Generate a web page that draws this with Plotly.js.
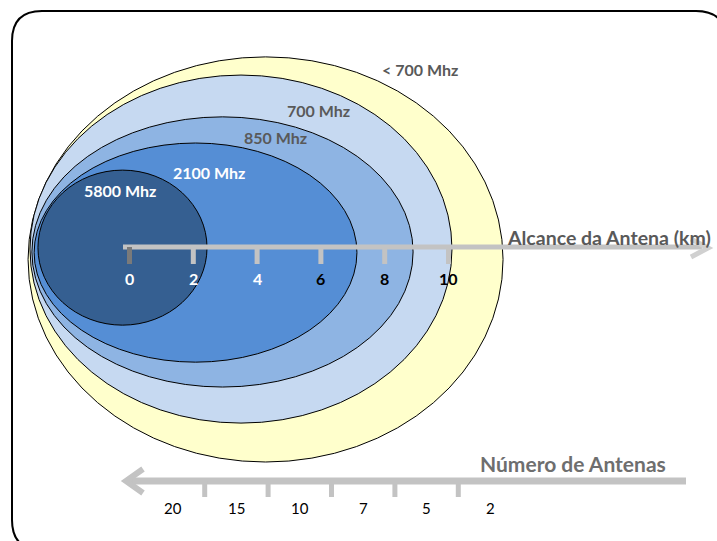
<!DOCTYPE html>
<html><head><meta charset="utf-8">
<script src="https://cdn.plot.ly/plotly-3.0.1.min.js"></script>
<style>html,body{margin:0;padding:0;background:#fff;overflow:hidden}</style>
</head><body><div id="chart" style="width:717px;height:541px"></div>
<script>
// ---- data ----
const frequencias = ['< 700 Mhz', '700 Mhz', '850 Mhz', '2100 Mhz', '5800 Mhz'];
const alcanceMinKm = [-3.18, -3.12, -3.06, -2.99, -2.87];
const alcanceMaxKm = [11.71, 10.11, 8.89, 7.13, 2.43];
const alturaMaxKm  = [5.96, 5.39, 4.08, 3.26, 2.41];
const alturaMinKm  = [-6.74, -5.52, -4.39, -3.61, -2.45];
const ticksKm = [0, 2, 4, 6, 8, 10];
const numeroAntenas = [20, 15, 10, 7, 5, 2];

// ---- layout / style ----
const W = 717, H = 541, PXKM = 31.9, X0 = 129.5, Y0 = 247;
const kmX = px => (px - X0) / PXKM;
const kmY = py => (Y0 - py) / PXKM;
const pX = px => px / W;
const pY = py => 1 - py / H;
const FONT = 'Lato, "Open Sans", sans-serif';
const fillColors = ['#FFFFCC', '#C6D9F1', '#8EB4E3', '#558ED5', '#355F91'];
const labelColors = ['#595959', '#595959', '#595959', '#FFFFFF', '#FFFFFF'];
const labelPos = [[420, 69], [318, 110], [275, 137], [209, 172], [120, 190]];
const tickLabelColors = ['#FFFFFF', '#FFFFFF', '#FFFFFF', '#000000', '#000000', '#000000'];
const AX_GRAY = '#C3C3C3';

const shapes = [];
const annotations = [];

// frame
(function () {
  const l = 12, t = 11, R = 726, B = 550, r = 30;
  const P = (x, y) => pX(x) + ',' + pY(y);
  shapes.push({
    type: 'path', xref: 'paper', yref: 'paper', layer: 'below',
    path: 'M' + P(l, t + r) + ' Q' + P(l, t) + ' ' + P(l + r, t) + ' L' + P(R - r, t) +
      ' Q' + P(R, t) + ' ' + P(R, t + r) + ' L' + P(R, B - r) + ' Q' + P(R, B) + ' ' + P(R - r, B) +
      ' L' + P(l + r, B) + ' Q' + P(l, B) + ' ' + P(l, B - r) + ' Z',
    line: { color: '#000', width: 2 }, fillcolor: 'rgba(0,0,0,0)'
  });
})();

// coverage ellipses
frequencias.forEach((f, i) => {
  shapes.push({
    type: 'circle', xref: 'x', yref: 'y', layer: 'below',
    x0: alcanceMinKm[i], x1: alcanceMaxKm[i], y0: alturaMinKm[i], y1: alturaMaxKm[i],
    fillcolor: fillColors[i], line: { color: '#000', width: 1 }
  });
  annotations.push({
    xref: 'paper', yref: 'paper', x: pX(labelPos[i][0]), y: pY(labelPos[i][1]),
    text: '<b>' + f.replace('<', '&lt;') + '</b>', showarrow: false,
    font: { family: FONT, size: 16, color: labelColors[i] }, xanchor: 'center', yanchor: 'middle'
  });
});

// top axis (alcance)
shapes.push({ type: 'line', xref: 'x', yref: 'y', x0: kmX(123), x1: kmX(702), y0: 0, y1: 0,
  line: { color: AX_GRAY, width: 5 } });
shapes.push({ type: 'path', xref: 'paper', yref: 'paper',
  path: 'M' + pX(691) + ',' + pY(239) + ' L' + pX(708) + ',' + pY(248) + ' L' + pX(691) + ',' + pY(257),
  line: { color: '#D0D0D0', width: 5 } });
ticksKm.forEach((t, i) => {
  shapes.push({ type: 'rect', xref: 'x', yref: 'y',
    x0: t - 2.5 / PXKM, x1: t + 2.5 / PXKM, y0: kmY(247), y1: kmY(264),
    fillcolor: i === 0 ? '#7A7A7A' : AX_GRAY, line: { width: 0 } });
  annotations.push({ xref: 'x', yref: 'y', x: t, y: kmY(278), text: '<b>' + t + '</b>',
    showarrow: false, font: { family: FONT, size: 16, color: tickLabelColors[i] },
    xanchor: 'center', yanchor: 'middle' });
});
annotations.push({ xref: 'paper', yref: 'paper', x: pX(505), y: pY(237),
  text: '<b>Alcance da Antena (km)</b>', showarrow: false,
  font: { family: FONT, size: 19.5, color: '#595959' }, xanchor: 'left', yanchor: 'middle' });

// bottom axis (número de antenas)
shapes.push({ type: 'line', xref: 'paper', yref: 'paper', x0: pX(128), x1: pX(686), y0: pY(481), y1: pY(481),
  line: { color: AX_GRAY, width: 7 } });
shapes.push({ type: 'path', xref: 'paper', yref: 'paper',
  path: 'M' + pX(143) + ',' + pY(469) + ' L' + pX(126) + ',' + pY(481) + ' L' + pX(143) + ',' + pY(493),
  line: { color: AX_GRAY, width: 6 } });
const nStart = 173, nStep = (490 - 173) / (numeroAntenas.length - 1);
numeroAntenas.forEach((n, i) => {
  const x = nStart + i * nStep;
  annotations.push({ xref: 'paper', yref: 'paper', x: pX(x), y: pY(508), text: String(n),
    showarrow: false, font: { family: FONT, size: 15, color: '#000' }, xanchor: 'center', yanchor: 'middle' });
  if (i < numeroAntenas.length - 1) {
    const tx = x + nStep / 2;
    shapes.push({ type: 'rect', xref: 'paper', yref: 'paper', x0: pX(tx - 2.5), x1: pX(tx + 2.5),
      y0: pY(481), y1: pY(497), fillcolor: AX_GRAY, line: { width: 0 } });
  }
});
annotations.push({ xref: 'paper', yref: 'paper', x: pX(668), y: pY(463),
  text: '<b>Número de Antenas</b>', showarrow: false,
  font: { family: FONT, size: 21, color: '#6E6E6E' }, xanchor: 'right', yanchor: 'middle' });

const layout = {
  width: W, height: H, margin: { l: 0, r: 0, t: 0, b: 0 },
  paper_bgcolor: '#fff', plot_bgcolor: 'rgba(0,0,0,0)', showlegend: false,
  xaxis: { range: [kmX(0), kmX(W)], visible: false, fixedrange: true },
  yaxis: { range: [kmY(H), kmY(0)], visible: false, fixedrange: true },
  shapes: shapes, annotations: annotations
};
Plotly.newPlot('chart', [], layout, { displayModeBar: false, staticPlot: true });
</script></body></html>
